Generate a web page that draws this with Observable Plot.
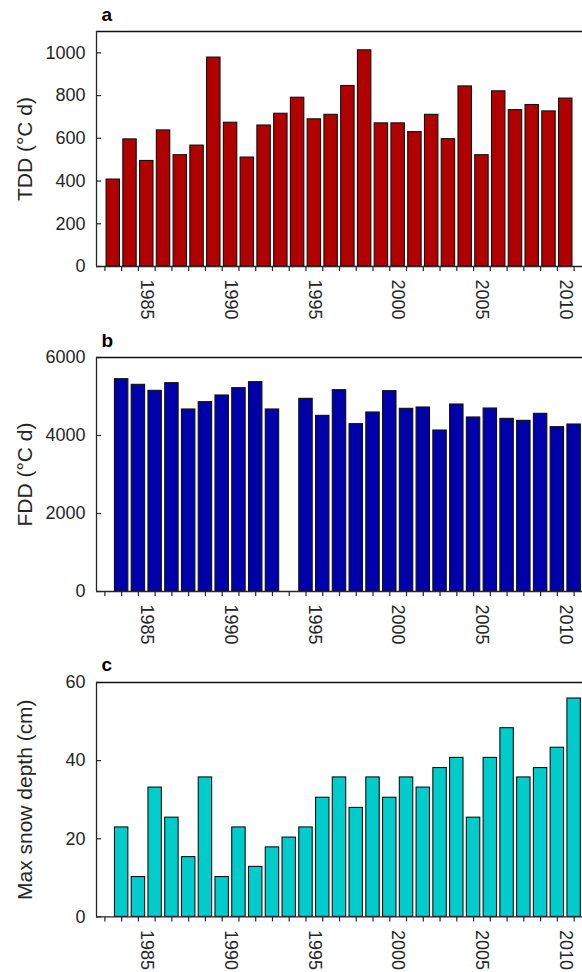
<!DOCTYPE html>
<html>
<head>
<meta charset="utf-8">
<script src="https://cdn.jsdelivr.net/npm/d3@7"></script>
<script src="https://cdn.jsdelivr.net/npm/@observablehq/plot@0.6"></script>
<style>
  html, body { margin: 0; padding: 0; background: #fff; }
  #wrap { position: relative; width: 582px; height: 972px; overflow: hidden; }
  #wrap svg { position: absolute; left: 0; }
</style>
</head>
<body>
<div id="wrap"></div>
<script>
// ---- data ----
const tddYears = [1983,1984,1985,1986,1987,1988,1989,1990,1991,1992,1993,1994,1995,1996,1997,1998,1999,2000,2001,2002,2003,2004,2005,2006,2007,2008,2009,2010];
const tddValues = [407,595,494,637,521,566,978,673,510,660,715,790,689,710,845,1012,670,670,629,710,596,843,521,820,732,756,726,786];

const fddYears = [1983.5,1984.5,1985.5,1986.5,1987.5,1988.5,1989.5,1990.5,1991.5,1992.5,1994.5,1995.5,1996.5,1997.5,1998.5,1999.5,2000.5,2001.5,2002.5,2003.5,2004.5,2005.5,2006.5,2007.5,2008.5,2009.5,2010.5];
const fddValues = [5444,5299,5145,5342,4667,4855,5026,5214,5368,4667,4940,4504,5162,4291,4590,5137,4684,4718,4128,4795,4462,4692,4427,4376,4556,4214,4282];

const snowYears = [1983.5,1984.5,1985.5,1986.5,1987.5,1988.5,1989.5,1990.5,1991.5,1992.5,1993.5,1994.5,1995.5,1996.5,1997.5,1998.5,1999.5,2000.5,2001.5,2002.5,2003.5,2004.5,2005.5,2006.5,2007.5,2008.5,2009.5,2010.5];
const snowValues = [22.9,10.2,33.1,25.4,15.3,35.7,10.2,22.9,12.8,17.8,20.3,22.9,30.5,35.7,27.9,35.7,30.5,35.7,33.1,38.1,40.7,25.4,40.7,48.3,35.7,38.1,43.3,55.9];

const xTickMarks = [1982.5,1983.5,1984.5,1985.5,1986.5,1987.5,1988.5,1989.5,1990.5,1991.5,1992.5,1993.5,1994.5,1995.5,1996.5,1997.5,1998.5,1999.5,2000.5,2001.5,2002.5,2003.5,2004.5,2005.5,2006.5,2007.5,2008.5,2009.5,2010.5];
const xLabelYears = [1985,1990,1995,2000,2005,2010];

const tddTicks = [0,200,400,600,800,1000];
const fddTicks = [0,2000,4000,6000];
const snowTicks = [0,20,40,60];

// ---- drawing ----
const font = "'Liberation Sans', Arial, Helvetica, sans-serif";
const ink = "#262626";

function panel({years, values, fill, yDomain, yTicks, yLabel, letter, top, innerH}) {
  const data = years.map((x, i) => ({x, v: values[i]}));
  const mt = 31, mb = 60;
  const svg = Plot.plot({
    width: 582,
    height: mt + innerH + mb,
    marginTop: mt,
    marginBottom: mb,
    marginLeft: 96,
    marginRight: 0,
    style: {fontFamily: font, fontSize: "18px", color: ink, background: "transparent", overflow: "visible"},
    x: {type: "linear", domain: [1982, 2011]},
    y: {domain: yDomain},
    marks: [
      Plot.rectY(data, {x1: d => d.x - 0.4, x2: d => d.x + 0.4, y: "v", fill, stroke: "#111", strokeWidth: 1.1}),
      Plot.axisY(yTicks, {tickSize: 0, tickPadding: 11, fontSize: 18, label: null, tickFormat: d => String(d)}),
      Plot.ruleY(yTicks, {x1: 1982, x2: 1982.3, stroke: ink, strokeWidth: 1.2}),
      Plot.axisX(xTickMarks, {tickSize: 5, tickFormat: () => "", label: null, strokeWidth: 1.2}),
      Plot.text(xLabelYears, {x: d => d, text: d => String(d), frameAnchor: "bottom", rotate: 90, textAnchor: "start", lineAnchor: "middle", dy: 13, fontSize: 18, fill: ink}),
      Plot.ruleY([yDomain[0]], {stroke: ink, strokeWidth: 1.3}),
      Plot.ruleY([yDomain[1]], {stroke: "#111", strokeWidth: 1.3}),
      Plot.ruleX([1982], {stroke: ink, strokeWidth: 1.3}),
      Plot.text([yLabel], {frameAnchor: "left", rotate: -90, dx: -71, textAnchor: "middle", lineAnchor: "middle", fontSize: 21, fill: ink}),
      Plot.text([letter], {frameAnchor: "top-left", textAnchor: "start", lineAnchor: "bottom", dx: 5, dy: -11, fontWeight: "bold", fontSize: 19, fill: "#000"})
    ]
  });
  svg.style.top = top + "px";
  document.getElementById("wrap").appendChild(svg);
}

panel({years: tddYears, values: tddValues, fill: "#b00000", yDomain: [0, 1100], yTicks: tddTicks,
       yLabel: "TDD (°C d)", letter: "a", top: 0, innerH: 235});
panel({years: fddYears, values: fddValues, fill: "#0000aa", yDomain: [0, 6000], yTicks: fddTicks,
       yLabel: "FDD (°C d)", letter: "b", top: 325.7, innerH: 234});
panel({years: snowYears, values: snowValues, fill: "#00cccc", yDomain: [0, 60], yTicks: snowTicks,
       yLabel: "Max snow depth (cm)", letter: "c", top: 651.3, innerH: 234.4});
</script>
</body>
</html>
